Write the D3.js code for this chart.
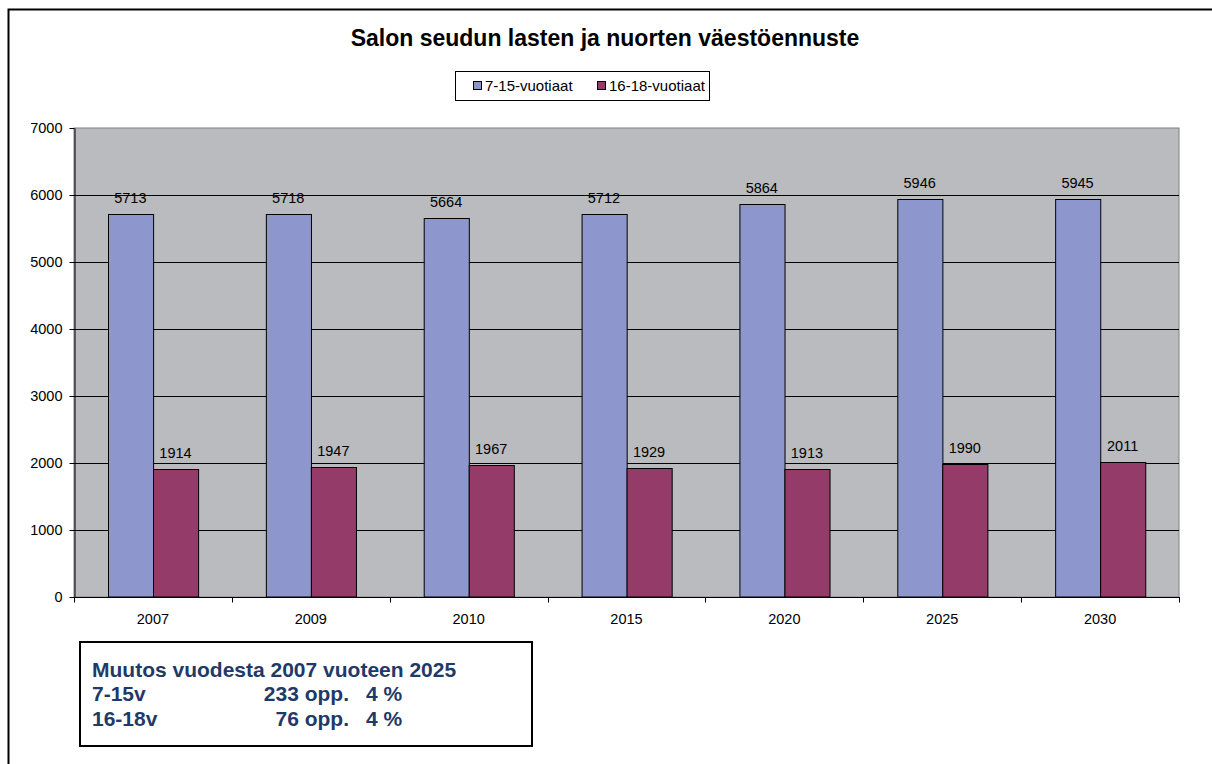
<!DOCTYPE html>
<html>
<head>
    <meta charset="utf-8">
    <title>Salon seudun lasten ja nuorten väestöennuste</title>
    <script src="https://d3js.org/d3.v7.min.js"></script>
    <style>
        body { margin: 0; background: #fff; }
        text { font-family: "Liberation Sans", Arial, sans-serif; }
    </style>
</head>
<body>
    <div id="chart"></div>

    <script>
        // data
        const years = ["2007", "2009", "2010", "2015", "2020", "2025", "2030"];
        const seriesNames = ["7-15-vuotiaat", "16-18-vuotiaat"];
        const age7to15 = [5713, 5718, 5664, 5712, 5864, 5946, 5945];
        const age16to18 = [1914, 1947, 1967, 1929, 1913, 1990, 2011];
        const yTicks = [0, 1000, 2000, 3000, 4000, 5000, 6000, 7000];
        const colors = ["#8d97cd", "#953b69"];

        const noteLines = [
            ["Muutos vuodesta 2007 vuoteen 2025", "", ""],
            ["7-15v", "233 opp.", "4 %"],
            ["16-18v", "76 opp.", "4 %"]
        ];

        const W = 1212, H = 764;
        const plot = {left: 74, right: 1179, top: 128, bottom: 597};
        const fs = "14.5px";

        const svg = d3.select("#chart").append("svg")
            .attr("width", W)
            .attr("height", H);

        // outer chart frame (runs off the picture at right and bottom)
        svg.append("rect")
            .attr("x", 8.5).attr("y", 9.5)
            .attr("width", 1220).attr("height", 780)
            .attr("fill", "#fff")
            .attr("stroke", "#000").attr("stroke-width", 2);

        // title
        svg.append("text")
            .attr("x", 605).attr("y", 46)
            .attr("text-anchor", "middle")
            .style("font-size", "23px").style("font-weight", "bold")
            .text("Salon seudun lasten ja nuorten väestöennuste");

        // legend
        const lg = svg.append("g");
        lg.append("rect")
            .attr("x", 455.5).attr("y", 71.5)
            .attr("width", 254).attr("height", 29)
            .attr("fill", "#fff").attr("stroke", "#000");
        const legendX = [473, 597];
        seriesNames.forEach((name, i) => {
            lg.append("rect")
                .attr("x", legendX[i] + 0.5).attr("y", 81.5)
                .attr("width", 8).attr("height", 8)
                .attr("fill", colors[i]).attr("stroke", "#000");
            lg.append("text")
                .attr("x", legendX[i] + 12).attr("y", 90.5)
                .style("font-size", "15px")
                .text(name);
        });

        // scales
        const x = d3.scaleBand()
            .domain(years)
            .range([plot.left, plot.right]);

        const xSub = d3.scaleBand()
            .domain([0, 1])
            .range([0, x.bandwidth()])
            .paddingInner(0)
            .paddingOuter(0.75);

        const y = d3.scaleLinear()
            .domain([0, 7000])
            .range([plot.bottom, plot.top]);

        // plot area
        svg.append("rect")
            .attr("x", plot.left).attr("y", plot.top)
            .attr("width", plot.right - plot.left)
            .attr("height", plot.bottom - plot.top)
            .attr("fill", "#b9bbbe")
            .attr("stroke", "#808080");

        // gridlines
        svg.append("g")
            .selectAll("line")
            .data(yTicks.filter(d => d > 0 && d < 7000))
            .enter().append("line")
            .attr("x1", plot.left).attr("x2", plot.right)
            .attr("y1", d => Math.round(y(d)) + 0.5)
            .attr("y2", d => Math.round(y(d)) + 0.5)
            .attr("stroke", "#000");

        // bars
        const groups = svg.append("g")
            .selectAll("g")
            .data(years.map((yr, i) => ({year: yr, vals: [age7to15[i], age16to18[i]]})))
            .enter().append("g")
            .attr("transform", d => `translate(${x(d.year)},0)`);

        groups.selectAll("rect")
            .data(d => d.vals.map((v, k) => ({v, k})))
            .enter().append("rect")
            .attr("x", d => Math.round(xSub(d.k)) + 0.5)
            .attr("y", d => Math.round(y(d.v)) + 0.5)
            .attr("width", xSub.bandwidth())
            .attr("height", d => y(0) - Math.round(y(d.v)) - 0.5)
            .attr("fill", d => colors[d.k])
            .attr("stroke", "#000")
            .attr("stroke-width", 1);

        groups.selectAll("text")
            .data(d => d.vals.map((v, k) => ({v, k})))
            .enter().append("text")
            .attr("x", d => xSub(d.k) + xSub.bandwidth() / 2)
            .attr("y", d => y(d.v) - 11)
            .attr("text-anchor", "middle")
            .style("font-size", fs)
            .text(d => d.v);

        // y axis
        const yAxis = svg.append("g")
            .attr("transform", `translate(${plot.left + 0.5},0)`)
            .call(d3.axisLeft(y).tickValues(yTicks).tickFormat(d3.format("d"))
                .tickSize(5).tickPadding(7).tickSizeOuter(0));
        yAxis.select(".domain").attr("stroke", "#000");
        yAxis.selectAll("text").style("font-size", fs).attr("fill", "#000");

        // x axis: ticks sit between categories
        const xAxisG = svg.append("g")
            .attr("transform", `translate(0,${plot.bottom + 0.5})`);
        xAxisG.append("line")
            .attr("x1", plot.left).attr("x2", plot.right + 1)
            .attr("stroke", "#000");
        const edges = years.map(d => x(d)).concat([plot.right]);
        xAxisG.selectAll(".tk")
            .data(edges)
            .enter().append("line")
            .attr("class", "tk")
            .attr("x1", d => Math.round(d) + 0.5).attr("x2", d => Math.round(d) + 0.5)
            .attr("y1", 0).attr("y2", 5)
            .attr("stroke", "#000");
        xAxisG.selectAll(".lbl")
            .data(years)
            .enter().append("text")
            .attr("class", "lbl")
            .attr("x", d => x(d) + x.bandwidth() / 2)
            .attr("y", 26)
            .attr("text-anchor", "middle")
            .style("font-size", fs)
            .text(d => d);

        // note box
        const note = svg.append("g");
        note.append("rect")
            .attr("x", 80).attr("y", 642)
            .attr("width", 452).attr("height", 104)
            .attr("fill", "#fff")
            .attr("stroke", "#000").attr("stroke-width", 2);
        const baselines = [677, 701, 726];
        noteLines.forEach((row, i) => {
            note.append("text")
                .attr("x", 92).attr("y", baselines[i])
                .style("font-size", "21px").style("font-weight", "bold")
                .attr("fill", "#1f3a68")
                .text(row[0]);
            note.append("text")
                .attr("x", 349).attr("y", baselines[i])
                .attr("text-anchor", "end")
                .style("font-size", "21px").style("font-weight", "bold")
                .attr("fill", "#1f3a68")
                .text(row[1]);
            note.append("text")
                .attr("x", 366).attr("y", baselines[i])
                .style("font-size", "21px").style("font-weight", "bold")
                .attr("fill", "#1f3a68")
                .text(row[2]);
        });
    </script>
</body>
</html>
